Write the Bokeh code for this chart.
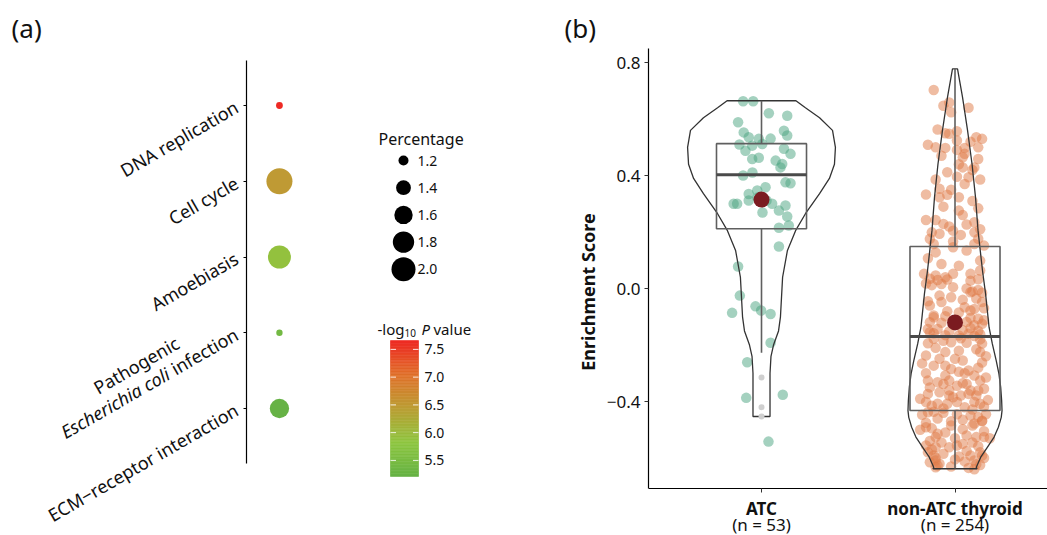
import math
from bokeh.plotting import figure
from bokeh.models import (Range1d, FixedTicker, CustomJSTickFormatter, Title, LinearAxis,
                          ColumnDataSource, LinearColorMapper)
from bokeh.layouts import row
from bokeh.embed import file_html
from bokeh.resources import INLINE
from bokeh.core.properties import value

FONT = "Noto Sans"
TXT = "#111111"

# ---------------- panel (a) data ----------------
pathways = ["DNA replication", "Cell cycle", "Amoebiasis",
            "Pathogenic Escherichia coli infection", "ECM\u2212receptor interaction"]
percentage = [1.11, 2.17, 1.92, 1.10, 1.66]
neglog10p = [7.66, 6.50, 5.90, 5.42, 5.21]
size_breaks = [1.2, 1.4, 1.6, 1.8, 2.0]
color_breaks = [5.5, 6.0, 6.5, 7.0, 7.5]
gradient_stops = ["#66b245", "#8dc63f", "#bb9f35", "#e0702a", "#ee2a24"]

# ---------------- panel (b) data ----------------
groups = ["ATC", "non-ATC thyroid"]
group_n = [53, 254]
atc_scores = [0.663, 0.663, 0.621, 0.612, 0.589, 0.553, 0.559, 0.542, 0.536, 0.530,
              0.512, 0.510, 0.506, 0.495, 0.477, 0.459, 0.463, 0.441, 0.429, 0.400,
              0.376, 0.373, 0.359, 0.347, 0.335, 0.312, 0.300, 0.300, 0.300, 0.294,
              0.276, 0.255, 0.215, 0.223, 0.149, 0.078, -0.025, -0.086, -0.063, -0.078,
              -0.090, -0.192, -0.261, -0.387, -0.376, -0.542, 0.322, 0.312, 0.411, 0.531,
              0.269, 0.488, 0.453]
atc_jitter = [-0.095, -0.043, 0.038, 0.133, -0.121, -0.092, 0.116, 0.133, -0.066, -0.014,
              0.004, -0.114, -0.048, 0.116, 0.150, -0.048, -0.014, 0.107, 0.098, -0.095,
              0.124, 0.150, 0.021, -0.022, -0.066, -0.066, -0.144, -0.126, 0.055, 0.124,
              0.090, 0.133, 0.090, 0.141, 0.090, -0.121, -0.112, -0.152, -0.031, -0.002,
              0.047, 0.047, -0.074, -0.079, 0.110, 0.036, -0.021, 0.026, -0.047, 0.047,
              0.005, -0.083, 0.073]
nonatc_scores = [
    0.703, 0.647, 0.659, 0.624, 0.640, 0.563, 0.548, 0.557, 0.524, 0.536, 0.530,
    0.509, 0.500, 0.498, 0.491, 0.498, 0.477, 0.500, 0.459, 0.465,
    0.429, 0.429, 0.412, 0.396, 0.394, 0.386, 0.386,
    0.353, 0.332, 0.333, 0.323, 0.323, 0.276, 0.284,
    0.243, 0.243, 0.229, 0.227, 0.235, 0.199, 0.194, 0.205, 0.199, 0.176, 0.152,
    0.176, 0.158, 0.167, 0.158, 0.107, 0.128, 0.146, 0.135, 0.099, 0.087, 0.081,
    0.052, 0.046, 0.040, 0.052, 0.052, 0.064,
    0.55, 0.52, 0.47, 0.44, 0.42, 0.37, 0.35, 0.31, 0.29, 0.26, 0.22, 0.21, 0.19,
    0.035, 0.030, 0.032, 0.028, 0.033, 0.018, 0.012, 0.016, 0.005, 0.000, -0.010, -0.005, -0.015,
    -0.025, -0.031, -0.045, -0.048, -0.040, -0.013, -0.035, -0.048,
    -0.060, -0.066, -0.072, -0.070, -0.080, -0.085, -0.078,
    -0.095, -0.102, -0.098, -0.104, -0.107, -0.112, -0.119, -0.121, -0.118, -0.125, -0.130,
    -0.143, -0.143, -0.140, -0.150, -0.148, -0.152, -0.158, -0.160, -0.162, -0.165, -0.166, -0.155, -0.168,
    -0.178, -0.176, -0.180, -0.185, -0.194, -0.190, -0.192, -0.195, -0.210, -0.215, -0.220, -0.225,
    -0.237, -0.225, -0.240, -0.249, -0.249, -0.255, -0.262, -0.273, -0.273, -0.285, -0.280, -0.290,
    -0.295, -0.308, -0.308, -0.300, -0.315, -0.326, -0.332, -0.326, -0.326, -0.335,
    -0.350, -0.338, -0.344, -0.338, -0.361, -0.355, -0.373, -0.367, -0.361, -0.379, -0.379, -0.373, -0.379,
    -0.402, -0.408, -0.402, -0.402, -0.408, -0.408, -0.390, -0.395, -0.415, -0.420, -0.418, -0.425, -0.428,
    -0.385, -0.360, -0.300, -0.265,
    -0.438, -0.436, -0.440, -0.445, -0.450, -0.455, -0.445, -0.447,
    -0.460, -0.465, -0.470, -0.468, -0.475, -0.478,
    -0.491, -0.495, -0.485, -0.498, -0.485, -0.470, -0.505,
    -0.514, -0.510, -0.520, -0.526, -0.526, -0.526, -0.530,
    -0.540, -0.545, -0.550, -0.545, -0.556, -0.562, -0.562, -0.556, -0.558,
    -0.570, -0.575, -0.580, -0.585, -0.591, -0.580, -0.595, -0.591, -0.591,
    -0.600, -0.609, -0.605, -0.609, -0.612, -0.620, -0.627, -0.622, -0.625,
    -0.633, -0.635, -0.630, -0.640, -0.615, -0.600, -0.530, -0.500]
nonatc_jitter = [
    -0.11, -0.06, -0.03, -0.02, 0.07, -0.09, -0.03, 0.01, 0.01, 0.11, 0.14,
    -0.14, -0.10, -0.05, 0.01, 0.05, 0.05, 0.12, 0.12, 0.04,
    0.04, 0.10, -0.04, 0.01, 0.07, 0.13, -0.10,
    -0.08, -0.04, -0.15, -0.08, 0.02, 0.02, 0.12,
    -0.15, -0.10, -0.06, 0.06, 0.10, -0.12, -0.08, -0.01, 0.10, 0.12, 0.15,
    -0.13, -0.11, -0.01, 0.10, -0.14, -0.10, -0.01, 0.06, 0.13, -0.07, 0.02,
    -0.16, -0.10, -0.05, -0.01, 0.08, 0.13,
    -0.05, 0.08, -0.07, 0.02, 0.09, 0.05, -0.02, 0.09, -0.06, 0.04, -0.03, 0.13, 0.03,
    -0.13, -0.09, -0.04, 0.08, 0.12, -0.15, -0.12, -0.07, -0.01, 0.06, 0.09, 0.12, 0.14,
    -0.08, -0.02, -0.14, -0.07, 0.04, 0.08, 0.11, 0.14,
    -0.13, 0.05, 0.10, 0.15, -0.04, 0.02, 0.08,
    -0.11, -0.11, -0.05, 0.08, 0.12, 0.15, -0.13, -0.07, 0.06, 0.14, 0.10,
    -0.14, -0.09, 0.08, 0.12, 0.04, -0.03, -0.11, 0.07, 0.13, -0.05, 0.02, -0.13, 0.10,
    -0.11, 0.03, 0.13, -0.06, -0.14, -0.02, 0.06, 0.14, -0.10, 0.11, 0.02, -0.05,
    -0.15, 0.13, 0.16, -0.08, 0.00, 0.04, 0.14, -0.11, -0.05, -0.02, 0.12, 0.07,
    0.02, -0.05, 0.10, -0.15, 0.16, -0.14, -0.09, -0.03, 0.13, 0.04,
    -0.13, -0.06, 0.01, 0.06, 0.08, 0.15, -0.14, -0.08, 0.12, 0.03, -0.03, 0.07, 0.11,
    -0.15, -0.09, 0.01, 0.10, 0.13, -0.04, -0.18, 0.17, -0.12, 0.05, 0.15, -0.06, 0.09,
    -0.01, -0.03, 0.05, -0.17,
    -0.14, -0.11, -0.06, 0.01, 0.08, 0.12, 0.16, -0.17,
    -0.09, 0.04, -0.02, 0.14, -0.15, 0.10,
    -0.15, -0.12, -0.02, 0.04, 0.09, 0.14, 0.15,
    -0.09, -0.05, 0.06, -0.10, 0.11, 0.15, 0.00,
    -0.13, -0.07, 0.04, 0.09, -0.15, -0.10, -0.03, 0.01, 0.12,
    -0.12, 0.06, 0.13, -0.06, -0.11, -0.14, 0.02, 0.08, 0.14,
    -0.10, -0.10, 0.00, 0.10, 0.05, -0.08, -0.09, 0.11, 0.13,
    -0.10, 0.07, -0.02, 0.10, -0.13, 0.15, 0.18, -0.18]
box_q1 = [0.212, -0.432]
box_median = [0.403, -0.170]
box_q3 = [0.513, 0.149]
whisker_low = [-0.227, -0.637]
whisker_high = [0.665, 0.778]
group_mean = [0.315, -0.120]
atc_outliers = [-0.315, -0.420, -0.453]
violin_atc_y = [0.665, 0.64, 0.605, 0.56, 0.50, 0.44, 0.39, 0.336, 0.265, 0.205,
                0.135, 0.04, -0.10, -0.15, -0.20, -0.24, -0.30, -0.453]
violin_atc_halfwidth = [0.178, 0.227, 0.300, 0.367, 0.382, 0.377, 0.351, 0.300, 0.227, 0.176,
                        0.134, 0.109, 0.098, 0.088, 0.062, 0.049, 0.044, 0.044]
violin_non_y = [0.778, 0.677, 0.559, 0.441, 0.323, 0.205, 0.064, -0.019, -0.137, -0.196,
                -0.255, -0.302, -0.349, -0.396, -0.432, -0.456, -0.491, -0.526, -0.562,
                -0.597, -0.633, -0.638]
violin_non_halfwidth = [0.013, 0.039, 0.065, 0.088, 0.106, 0.119, 0.142, 0.158, 0.176, 0.193,
                        0.213, 0.227, 0.236, 0.241, 0.243, 0.239, 0.224, 0.202, 0.167,
                        0.133, 0.110, 0.114]
y_ticks = [-0.4, 0.0, 0.4, 0.8]
y_limits = [-0.708, 0.850]

group_colors = ["#4aa37f", "#e07a45"]


# ---------------- helpers ----------------
def hex_to_rgb(h):
    return tuple(int(h[i:i + 2], 16) for i in (1, 3, 5))


def make_palette(stops, n=256):
    out = []
    for k in range(n):
        t = k / (n - 1) * (len(stops) - 1)
        i = min(int(t), len(stops) - 2)
        f = t - i
        a, b = hex_to_rgb(stops[i]), hex_to_rgb(stops[i + 1])
        out.append("#%02x%02x%02x" % tuple(round(a[j] + (b[j] - a[j]) * f) for j in range(3)))
    return out


def dot_size(p):
    return math.sqrt(max(595.0 * p - 614.0, 9.0))


mapper = LinearColorMapper(palette=make_palette(gradient_stops),
                           low=min(neglog10p), high=max(neglog10p))

# all frames share the same top / bottom (bokeh aligns them in a row);
# frames run to the bottom of the canvas, axes are pinned inside them
H = 535
FT, FB = 48, H

# ================= panel (a): dot plot =================
A_LAB_W = 243                    # label strip width
A_FL, A_FR = 246, 330            # dot-plot frame
A_AX_TOP, A_AX_BOT = 60, 463     # visible extent of the y axis line
CAT_PX = 75.75                   # pixels between categories
ypos = [len(pathways) - i for i in range(len(pathways))]
ya0 = ypos[0] - (FB - 105) / CAT_PX
ya1 = ya0 + (FB - FT) / CAT_PX
yrA = Range1d(ya0, ya1)
xa0, xa1 = -1.0, 1.55


def ay(py):
    return ya0 + (FB - py) / CAT_PX


def ay_inv(v):
    return FB - (v - ya0) * CAT_PX


# --- label strip (shares the category scale) ---
pA1 = figure(width=A_LAB_W, height=H, x_range=Range1d(0, A_LAB_W), y_range=yrA,
             output_backend="svg", toolbar_location=None, min_border_left=0,
             min_border_right=0, min_border_top=FT, min_border_bottom=H - FB,
             x_axis_location=None, y_axis_location=None)
pA1.grid.visible = False
pA1.outline_line_color = None
pA1.title = Title(text="(a)", align="left", offset=11, standoff=6,
                  text_font=FONT, text_font_size="26px", text_font_style="normal",
                  text_color=TXT)

ANG = 30
ca, sa = math.cos(math.radians(ANG)), math.sin(math.radians(ANG))
ANCHOR_X = 236
LAB_SIZE = "18px"
groups_lab = {"right": ([], [], []), "left": ([], [], []), "center": ([], [], []),
              "italic": ([], [], [])}


def put(key, cx, cy, text):
    xs, ys, ts = groups_lab[key]
    xs.append(cx)
    ys.append(ay(cy))
    ts.append(text)


for name, yv in zip(pathways, ypos):
    Ax, Ay = ANCHOR_X, ay_inv(yv)
    if name.startswith("Pathogenic"):
        words = name.split(" ")
        line1, ital, rest = words[0], " ".join(words[1:3]), " ".join(words[3:])
        W_REST, SP, W2, S = 74, 5, 206, 22
        Px, Py = Ax - W_REST * ca, Ay + W_REST * sa
        put("left", Px, Py, rest)
        put("italic", Px - SP * ca, Py + SP * sa, ital)
        put("center", Ax - (W2 / 2) * ca - S * sa, Ay + (W2 / 2) * sa - S * ca, line1)
    else:
        put("right", Ax, Ay, name)

for key, (xs, ys, ts) in groups_lab.items():
    if not xs:
        continue
    align = "right" if key == "italic" else key
    pA1.text(x=xs, y=ys, text=ts, angle=ANG, angle_units="deg", text_align=align,
             text_baseline="middle", text_font=value(FONT),
             text_font_style="italic" if key == "italic" else "normal",
             text_font_size=LAB_SIZE, text_color=TXT)

# --- dot plot with its category axis ---
pA2 = figure(width=A_FR - A_LAB_W, height=H, x_range=Range1d(xa0, xa1), y_range=yrA,
             output_backend="svg", toolbar_location=None,
             min_border_left=A_FL - A_LAB_W, min_border_right=0, min_border_top=FT,
             min_border_bottom=H - FB, x_axis_location=None)
pA2.grid.visible = False
pA2.outline_line_color = None

srcA = ColumnDataSource(dict(x=[0.0] * len(pathways), y=ypos, p=neglog10p,
                             size=[dot_size(v) for v in percentage]))
pA2.scatter("x", "y", size="size", source=srcA,
            fill_color={"field": "p", "transform": mapper}, line_color=None)

ya_ax = pA2.yaxis[0]
ya_ax.ticker = FixedTicker(ticks=ypos)
ya_ax.formatter = CustomJSTickFormatter(code="return ''")
ya_ax.bounds = (ay(A_AX_BOT), ay(A_AX_TOP))
ya_ax.major_tick_out = 3
ya_ax.major_tick_in = 0
ya_ax.major_label_standoff = 0
ya_ax.minor_tick_line_color = None
ya_ax.axis_line_color = "black"
ya_ax.axis_line_width = 1.2
ya_ax.major_tick_line_color = "black"

# ================= legends (pixel-space figure) =================
pL = figure(width=230, height=H, x_range=Range1d(330, 560), y_range=Range1d(FB, FT),
            output_backend="svg", toolbar_location=None, min_border_left=0,
            min_border_right=0, min_border_top=FT, min_border_bottom=H - FB,
            x_axis_location=None, y_axis_location=None)
pL.grid.visible = False
pL.outline_line_color = None

# size legend
KX, KY0, KDY = 403, 160, 27.2
pL.text(x=[378], y=[138], text=["Percentage"], text_font=value(FONT), text_font_size="16px",
        text_align="left", text_baseline="middle", text_color=TXT)
ky = [KY0 + KDY * i for i in range(len(size_breaks))]
pL.scatter(x=[KX] * len(size_breaks), y=ky, size=[dot_size(b) for b in size_breaks],
           fill_color="black", line_color=None)
pL.text(x=[417] * len(size_breaks), y=ky, text=["%.1f" % b for b in size_breaks],
        text_font=value(FONT), text_font_size="14px", text_align="left",
        text_baseline="middle", text_color=TXT)

# colour bar
CB_L, CB_R, CB_T, CB_B = 390, 418, 340, 476
lo, hi = mapper.low, mapper.high
N = 90
vals = [lo + (hi - lo) * (k + 0.5) / N for k in range(N)]
tops = [CB_B - (CB_B - CB_T) * (k + 1) / N for k in range(N)]
bots = [CB_B - (CB_B - CB_T) * k / N for k in range(N)]
cb_src = ColumnDataSource(dict(v=vals, top=tops, bottom=bots))
pL.quad(left=CB_L, right=CB_R, top="top", bottom="bottom", source=cb_src,
        fill_color={"field": "v", "transform": mapper},
        line_color={"field": "v", "transform": mapper}, line_width=0.6)


def cb_y(v):
    return CB_B - (v - lo) / (hi - lo) * (CB_B - CB_T)


tky = [cb_y(v) for v in color_breaks]
pL.segment(x0=[CB_L] * 5, y0=tky, x1=[CB_L + 5.5] * 5, y1=tky, line_color="white",
           line_alpha=0.85, line_width=1)
pL.segment(x0=[CB_R - 5.5] * 5, y0=tky, x1=[CB_R] * 5, y1=tky, line_color="white",
           line_alpha=0.85, line_width=1)
pL.text(x=[424] * 5, y=tky, text=["%.1f" % v for v in color_breaks], text_font=value(FONT),
        text_font_size="14px", text_align="left", text_baseline="middle", text_color=TXT)
TY = 328
pL.text(x=[377], y=[TY], text=["-log"], text_font=value(FONT), text_font_size="15px",
        text_align="left", text_baseline="middle", text_color=TXT)
pL.text(x=[404], y=[TY + 4], text=["10"], text_font=value(FONT), text_font_size="10px",
        text_align="left", text_baseline="middle", text_color=TXT)
pL.text(x=[421], y=[TY], text=["P"], text_font=value(FONT), text_font_size="15px",
        text_font_style="italic", text_align="left", text_baseline="middle", text_color=TXT)
pL.text(x=[433], y=[TY], text=["value"], text_font=value(FONT), text_font_size="15px",
        text_align="left", text_baseline="middle", text_color=TXT)

# ================= panel (b): violin / box / jitter =================
B_OFF = 560
B_FL = 648
B_AXIS_PX = 488                       # canvas row of the x axis line
xb0, xb1 = 0.416, 2.478
per_px = (y_limits[1] - y_limits[0]) / (B_AXIS_PX - FT)
yb_bottom = y_limits[0] - (FB - B_AXIS_PX) * per_px
pB = figure(width=487, height=H, x_range=Range1d(xb0, xb1),
            y_range=Range1d(yb_bottom, y_limits[1]),
            output_backend="svg", toolbar_location=None,
            min_border_left=B_FL - B_OFF, min_border_right=0, min_border_top=FT,
            min_border_bottom=H - FB)
pB.grid.visible = False
pB.outline_line_color = None

# jittered points
pB.scatter([1 + o for o in atc_jitter], atc_scores, size=10.5, fill_color=group_colors[0],
           fill_alpha=0.5, line_color=None)
pB.scatter([2 + o for o in nonatc_jitter], nonatc_scores, size=10.5, fill_color=group_colors[1],
           fill_alpha=0.5, line_color=None)

# violins
for c, ys, hws in [(1, violin_atc_y, violin_atc_halfwidth), (2, violin_non_y, violin_non_halfwidth)]:
    xs = [c + h for h in hws] + [c - h for h in reversed(hws)]
    yy = list(ys) + list(reversed(ys))
    pB.patch(xs + [xs[0]], yy + [yy[0]], fill_color=None, line_color="#333333", line_width=1.3)

# boxes
BW = 0.2326
centers = [1, 2]
pB.segment(x0=centers, y0=box_q3, x1=centers, y1=whisker_high, line_color="#5f5f5f", line_width=1.6)
pB.segment(x0=centers, y0=box_q1, x1=centers, y1=whisker_low, line_color="#5f5f5f", line_width=1.6)
pB.quad(left=[c - BW for c in centers], right=[c + BW for c in centers], top=box_q3,
        bottom=box_q1, fill_color=None, line_color="#5f5f5f", line_width=1.6)
pB.segment(x0=[c - BW for c in centers], y0=box_median, x1=[c + BW for c in centers],
           y1=box_median, line_color="#4a4a4a", line_width=3)
pB.scatter([1] * len(atc_outliers), atc_outliers, size=6, fill_color="#cfcfcf", line_color=None)
pB.scatter(centers, group_mean, size=16, fill_color="#7b1b20", line_color=None)

yb_ax = pB.yaxis[0]
yb_ax.ticker = FixedTicker(ticks=y_ticks)
yb_ax.formatter = CustomJSTickFormatter(code="return tick.toFixed(1).replace('-', '\u2212')")
yb_ax.bounds = (y_limits[0], y_limits[1])
yb_ax.axis_label = "Enrichment Score"
yb_ax.axis_label_text_font = FONT
yb_ax.axis_label_text_font_style = "bold"
yb_ax.axis_label_text_font_size = "18px"
yb_ax.axis_label_text_color = TXT
yb_ax.axis_label_standoff = 4
yb_ax.major_label_text_font = FONT
yb_ax.major_label_text_font_size = "17px"
yb_ax.major_label_text_color = TXT
yb_ax.major_label_standoff = 4
yb_ax.major_tick_out = 4
yb_ax.major_tick_in = 0
yb_ax.major_tick_line_color = "#333333"
yb_ax.minor_tick_line_color = None
yb_ax.axis_line_color = "black"
yb_ax.axis_line_width = 1.2

xb_ax = pB.xaxis[0]
xb_ax.fixed_location = y_limits[0]
xb_ax.ticker = FixedTicker(ticks=centers)
xb_ax.formatter = CustomJSTickFormatter(args=dict(names=groups),
                                        code="return names[Math.round(tick) - 1]")
xb_ax.major_label_text_font = FONT
xb_ax.major_label_text_font_style = "bold"
xb_ax.major_label_text_font_size = "17px"
xb_ax.major_label_text_color = TXT
xb_ax.major_label_standoff = 4
xb_ax.major_tick_out = 4
xb_ax.major_tick_in = 0
xb_ax.major_tick_line_color = "#333333"
xb_ax.minor_tick_line_color = None
xb_ax.axis_line_color = "black"
xb_ax.axis_line_width = 1.2

# second row of category labels: group sizes
n_axis = LinearAxis(ticker=FixedTicker(ticks=centers), fixed_location=y_limits[0],
                    formatter=CustomJSTickFormatter(args=dict(n=group_n),
                                                    code="return '(n = ' + n[Math.round(tick) - 1] + ')'"),
                    axis_line_color=None, major_tick_line_color=None,
                    minor_tick_line_color=None, major_tick_out=0, major_tick_in=0,
                    major_label_standoff=24, major_label_text_font=FONT,
                    major_label_text_font_size="17px", major_label_text_color=TXT)
pB.add_layout(n_axis, "below")

pB.title = Title(text="(b)", align="left", offset=564 - B_FL, standoff=6,
                 text_font=FONT, text_font_size="26px", text_font_style="normal",
                 text_color=TXT)

layout = row(pA1, pA2, pL, pB)
open("out.html", "w").write(file_html(layout, INLINE))
